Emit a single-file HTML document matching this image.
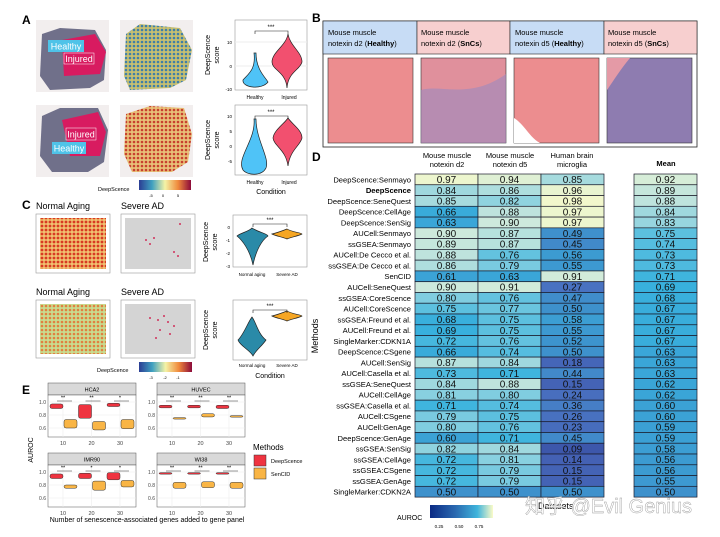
<!DOCTYPE html>
<html><head><meta charset="utf-8">
<style>
body{margin:0;background:#fff;font-family:"Liberation Sans","Noto Sans CJK SC",sans-serif;}
#wrap{position:relative;width:720px;height:537px;overflow:hidden;}
svg text{font-family:"Liberation Sans","Noto Sans CJK SC",sans-serif;}
</style></head>
<body>
<div id="wrap">
<svg id="fig" width="720" height="537" viewBox="0 0 720 537">
<defs>
<linearGradient id="spec" x1="0" x2="1"><stop offset="0" stop-color="#2b3d94"/><stop offset="0.25" stop-color="#3fa0c0"/><stop offset="0.5" stop-color="#f4f3a6"/><stop offset="0.75" stop-color="#f08a3c"/><stop offset="1" stop-color="#8c0a3a"/></linearGradient>
<linearGradient id="auroc" x1="0" x2="1"><stop offset="0" stop-color="#0b2a84"/><stop offset="0.4" stop-color="#2a69b0"/><stop offset="0.75" stop-color="#3fb4dc"/><stop offset="1" stop-color="#fbfbc8"/></linearGradient>
<pattern id="dots1" width="4" height="4" patternUnits="userSpaceOnUse"><rect width="4" height="4" fill="#c8c070"/><circle cx="2" cy="2" r="1.3" fill="#3f7fa8"/></pattern>
<pattern id="dots2" width="4" height="4" patternUnits="userSpaceOnUse"><rect width="4" height="4" fill="#e8c078"/><circle cx="2" cy="2" r="1.3" fill="#c8402e"/></pattern>
<pattern id="dots3" width="4" height="4" patternUnits="userSpaceOnUse"><rect width="4" height="4" fill="#f0c070"/><circle cx="2" cy="2" r="1.4" fill="#d83a22"/></pattern>
<pattern id="dots4" width="4" height="4" patternUnits="userSpaceOnUse"><rect width="4" height="4" fill="#c8dc90"/><circle cx="2" cy="2" r="1.3" fill="#e08040"/></pattern>
</defs>

<!-- Panel A -->
<g>
<text x="22" y="24" font-size="12" font-weight="bold">A</text>
<rect x="36" y="20" width="73" height="72" fill="#f2eeee"/>
<path d="M42 34 L60 28 L95 30 L106 50 L104 80 L90 88 L50 90 L40 76 Z" fill="#70708a"/>
<path d="M62 40 L95 34 L106 52 L100 74 L64 76 Z" fill="#d81b60"/>
<rect x="48" y="40" width="36" height="12" fill="#4fc3e8"/>
<text x="66" y="49.5" font-size="9" fill="#fff" text-anchor="middle">Healthy</text>
<rect x="64" y="53" width="30" height="11" fill="#d81b60" stroke="#fff" stroke-width="0.5"/>
<text x="79" y="62" font-size="9" fill="#fff" text-anchor="middle">Injured</text>
<rect x="120" y="20" width="73" height="72" fill="#f2eeee"/>
<path d="M126 34 L140 24 L180 28 L192 50 L186 80 L170 88 L130 90 L124 76 Z" fill="url(#dots1)"/>
<rect x="36" y="105" width="73" height="72" fill="#f2eeee"/>
<path d="M42 116 L60 108 L98 108 L108 130 L104 162 L88 172 L52 172 L40 156 Z" fill="#70708a"/>
<path d="M62 120 L98 112 L106 132 L100 156 L70 156 Z" fill="#d81b60"/>
<rect x="66" y="128" width="30" height="12" fill="#d81b60" stroke="#fff" stroke-width="0.5"/>
<text x="81" y="137.5" font-size="9" fill="#fff" text-anchor="middle">Injured</text>
<rect x="52" y="142" width="34" height="12" fill="#4fc3e8"/>
<text x="69" y="151.5" font-size="9" fill="#fff" text-anchor="middle">Healthy</text>
<rect x="120" y="105" width="73" height="72" fill="#f2eeee"/>
<path d="M126 114 L150 106 L184 108 L192 134 L188 162 L172 172 L132 172 L124 154 Z" fill="url(#dots2)"/>
<text x="98" y="191" font-size="5.5">DeepScence</text>
<rect x="139" y="180" width="52" height="10" fill="url(#spec)"/>
<text x="151" y="197" font-size="4" text-anchor="middle">-5</text><text x="163" y="197" font-size="4" text-anchor="middle">0</text><text x="178" y="197" font-size="4" text-anchor="middle">5</text>
<!-- violins A -->
<g>
<rect x="235" y="20" width="72" height="70" fill="#fff" stroke="#999" stroke-width="0.6"/>
<line x1="235" y1="42" x2="307" y2="42" stroke="#eee"/><line x1="235" y1="66" x2="307" y2="66" stroke="#eee"/>
<path d="M254 53 C256 70 248 74 243 80 C242 88 262 90 268 82 C266 78 256 70 256 53 Z" fill="#4fc3f7" stroke="#222" stroke-width="0.7"/>
<path d="M288 34 C290 46 302 52 302 62 C300 70 288 72 287 88 C286 72 272 70 272 62 C272 52 286 46 288 34 Z" fill="#f2506f" stroke="#222" stroke-width="0.7"/>
<path d="M255 34 L255 31 L288 31 L288 34" fill="none" stroke="#222" stroke-width="0.6"/>
<text x="271" y="29" font-size="6" text-anchor="middle">***</text>
<text x="232" y="44" font-size="4.5" text-anchor="end">10</text><text x="232" y="68" font-size="4.5" text-anchor="end">0</text><text x="232" y="91" font-size="4.5" text-anchor="end">-10</text>
<text x="255" y="99" font-size="5" text-anchor="middle">Healthy</text><text x="289" y="99" font-size="5" text-anchor="middle">Injured</text>
<text transform="translate(210,55) rotate(-90)" font-size="7" text-anchor="middle">DeepScence</text>
<text transform="translate(219,55) rotate(-90)" font-size="7" text-anchor="middle">score</text>
</g>
<g>
<rect x="235" y="105" width="72" height="70" fill="#fff" stroke="#999" stroke-width="0.6"/>
<path d="M254 119 C256 140 236 158 243 170 C248 176 262 176 266 168 C270 158 256 140 256 119 Z" fill="#4fc3f7" stroke="#222" stroke-width="0.7"/>
<path d="M288 118 C292 124 302 130 302 138 C300 146 290 150 288 166 C286 150 274 146 273 138 C274 130 284 124 288 118 Z" fill="#f2506f" stroke="#222" stroke-width="0.7"/>
<path d="M255 119 L255 116 L288 116 L288 119" fill="none" stroke="#222" stroke-width="0.6"/>
<text x="271" y="114" font-size="6" text-anchor="middle">***</text>
<text x="232" y="118" font-size="4.5" text-anchor="end">10</text><text x="232" y="133" font-size="4.5" text-anchor="end">5</text><text x="232" y="148" font-size="4.5" text-anchor="end">0</text><text x="232" y="163" font-size="4.5" text-anchor="end">-5</text>
<text x="255" y="184" font-size="5" text-anchor="middle">Healthy</text><text x="289" y="184" font-size="5" text-anchor="middle">Injured</text>
<text x="271" y="194" font-size="7" text-anchor="middle">Condition</text>
<text transform="translate(210,140) rotate(-90)" font-size="7" text-anchor="middle">DeepScence</text>
<text transform="translate(219,140) rotate(-90)" font-size="7" text-anchor="middle">score</text>
</g>
</g>

<!-- Panel C -->
<g>
<text x="22" y="209" font-size="12" font-weight="bold">C</text>
<text x="36" y="209" font-size="9">Normal Aging</text><text x="121" y="209" font-size="9">Severe AD</text>
<rect x="36" y="214" width="74" height="59" fill="#fff" stroke="#999" stroke-width="0.6"/>
<rect x="40" y="218" width="66" height="51" fill="url(#dots3)"/>
<rect x="121" y="214" width="74" height="59" fill="#fff" stroke="#999" stroke-width="0.6"/>
<rect x="125" y="218" width="66" height="51" fill="#d4d4d4"/>
<text x="36" y="295" font-size="9">Normal Aging</text><text x="121" y="295" font-size="9">Severe AD</text>
<rect x="36" y="300" width="74" height="58" fill="#fff" stroke="#999" stroke-width="0.6"/>
<rect x="40" y="304" width="66" height="50" fill="url(#dots4)"/>
<rect x="121" y="300" width="74" height="58" fill="#fff" stroke="#999" stroke-width="0.6"/>
<rect x="125" y="304" width="66" height="50" fill="#d4d4d4"/>
<g fill="#d0305a">
<circle cx="146" cy="240" r="1"/><circle cx="150" cy="244" r="1"/><circle cx="154" cy="238" r="1"/><circle cx="174" cy="252" r="1"/><circle cx="178" cy="256" r="1"/><circle cx="180" cy="224" r="1"/>
<circle cx="150" cy="318" r="1"/><circle cx="158" cy="320" r="1"/><circle cx="164" cy="316" r="1"/><circle cx="168" cy="322" r="1"/><circle cx="160" cy="330" r="1"/><circle cx="170" cy="334" r="1"/><circle cx="156" cy="338" r="1"/><circle cx="174" cy="326" r="1"/>
</g>
<text x="97" y="372" font-size="5.5">DeepScence</text>
<rect x="139" y="362" width="53" height="10" fill="url(#spec)"/>
<text x="151" y="379" font-size="4" text-anchor="middle">-3</text><text x="165" y="379" font-size="4" text-anchor="middle">-2</text><text x="178" y="379" font-size="4" text-anchor="middle">-1</text>
<g>
<rect x="233" y="215" width="74" height="52" fill="#fff" stroke="#999" stroke-width="0.6"/>
<path d="M252 228 C258 232 268 234 268 236 C262 240 256 250 253 265 C250 250 242 240 237 236 C240 233 248 232 252 228 Z" fill="#2a8aa8" stroke="#222" stroke-width="0.7"/>
<path d="M287 229 C292 232 302 233 302 234 C298 236 292 237 287 239 C282 237 276 236 272 234 C276 233 282 231 287 229 Z" fill="#f6a623" stroke="#222" stroke-width="0.7"/>
<path d="M253 227 L253 224 L287 224 L287 227" fill="none" stroke="#222" stroke-width="0.6"/>
<text x="270" y="222" font-size="6" text-anchor="middle">***</text>
<text x="230" y="229" font-size="4.5" text-anchor="end">0</text><text x="230" y="242" font-size="4.5" text-anchor="end">-1</text><text x="230" y="255" font-size="4.5" text-anchor="end">-2</text><text x="230" y="268" font-size="4.5" text-anchor="end">-3</text>
<text x="252" y="276" font-size="4.5" text-anchor="middle">Normal aging</text><text x="287" y="276" font-size="4.5" text-anchor="middle">Severe AD</text>
<text transform="translate(208,242) rotate(-90)" font-size="7" text-anchor="middle">DeepScence</text>
<text transform="translate(217,242) rotate(-90)" font-size="7" text-anchor="middle">score</text>
</g>
<g>
<rect x="233" y="300" width="74" height="60" fill="#fff" stroke="#999" stroke-width="0.6"/>
<path d="M252 317 C256 322 258 334 266 340 C262 346 256 350 253 356 C250 350 240 346 238 340 C244 334 248 322 252 317 Z" fill="#2a8aa8" stroke="#222" stroke-width="0.7"/>
<path d="M287 311 C292 314 302 315 302 316 C298 318 292 319 287 321 C282 319 276 318 272 316 C276 315 282 313 287 311 Z" fill="#f6a623" stroke="#222" stroke-width="0.7"/>
<path d="M253 313 L253 310 L287 310 L287 313" fill="none" stroke="#222" stroke-width="0.6"/>
<text x="270" y="308" font-size="6" text-anchor="middle">***</text>
<text x="252" y="367" font-size="4.5" text-anchor="middle">Normal aging</text><text x="287" y="367" font-size="4.5" text-anchor="middle">Severe AD</text>
<text x="270" y="378" font-size="7" text-anchor="middle">Condition</text>
<text transform="translate(208,330) rotate(-90)" font-size="7" text-anchor="middle">DeepScence</text>
<text transform="translate(217,330) rotate(-90)" font-size="7" text-anchor="middle">score</text>
</g>
</g>

<!-- Panel B -->
<g>
<text x="312" y="22" font-size="12" font-weight="bold">B</text>
<rect x="323" y="21" width="374" height="126" fill="#fff" stroke="#222" stroke-width="0.8"/>
<rect x="323" y="21" width="94" height="33" fill="#c7dcf5" stroke="#222" stroke-width="0.6"/>
<rect x="417" y="21" width="93" height="33" fill="#f7cfcf" stroke="#222" stroke-width="0.6"/>
<rect x="510" y="21" width="94" height="33" fill="#c7dcf5" stroke="#222" stroke-width="0.6"/>
<rect x="604" y="21" width="93" height="33" fill="#f7cfcf" stroke="#222" stroke-width="0.6"/>
<g font-size="7.5">
<text x="328" y="35">Mouse muscle</text><text x="328" y="46">notexin d2 (<tspan font-weight="bold">Healthy</tspan>)</text>
<text x="421" y="35">Mouse muscle</text><text x="421" y="46">notexin d2 (<tspan font-weight="bold">SnCs</tspan>)</text>
<text x="515" y="35">Mouse muscle</text><text x="515" y="46">notexin d5 (<tspan font-weight="bold">Healthy</tspan>)</text>
<text x="608" y="35">Mouse muscle</text><text x="608" y="46">notexin d5 (<tspan font-weight="bold">SnCs</tspan>)</text>
</g>
<rect x="328" y="58" width="85" height="85" fill="#ec8d8f" stroke="#333" stroke-width="0.6"/>
<rect x="421" y="58" width="85" height="85" fill="#e0909c" stroke="#333" stroke-width="0.6"/>
<path d="M421 90 C440 84 470 100 506 74 L506 143 L421 143 Z" fill="#9b8ac0" opacity="0.6"/>
<rect x="514" y="58" width="85" height="85" fill="#ec8d8f" stroke="#333" stroke-width="0.6"/>
<path d="M514 118 C524 124 530 138 540 143 L514 143 Z" fill="#fff"/>
<rect x="607" y="58" width="85" height="85" fill="#8e7cb0" stroke="#333" stroke-width="0.6"/>
<path d="M607 58 L630 58 C620 70 614 80 607 90 Z" fill="#e49aa6"/>
</g>

<!-- Panel D heatmap -->
<g id="heat">
<text x="312" y="161" font-size="12" font-weight="bold">D</text>
<g font-size="7.5" text-anchor="middle">
<text x="447" y="158">Mouse muscle</text><text x="447" y="167">notexin d2</text>
<text x="510" y="158">Mouse muscle</text><text x="510" y="167">notexin d5</text>
<text x="572" y="158">Human brain</text><text x="572" y="167">microglia</text>
<text x="666" y="166" font-weight="bold">Mean</text>
</g>
<text transform="translate(318,336) rotate(-90)" font-size="9" text-anchor="middle">Methods</text>
<text x="397" y="520" font-size="7">AUROC</text>
<rect x="430" y="505" width="63" height="13" fill="url(#auroc)"/>
<text x="439" y="528" font-size="4.5" text-anchor="middle">0.25</text><text x="459" y="528" font-size="4.5" text-anchor="middle">0.50</text><text x="479" y="528" font-size="4.5" text-anchor="middle">0.75</text>
<text x="538" y="509" font-size="9">Datasets</text>
</g>

<!-- Panel E -->
<g id="panelE">
<text x="22" y="394" font-size="12" font-weight="bold">E</text>
<text transform="translate(33,450) rotate(-90)" font-size="7" text-anchor="middle">AUROC</text>
<text x="147" y="522" font-size="7" text-anchor="middle">Number of senescence-associated genes added to gene panel</text>
<text x="253" y="450" font-size="8">Methods</text>
<rect x="254" y="455" width="12" height="11" fill="#ef3340" stroke="#333" stroke-width="0.5"/>
<text x="271" y="463" font-size="5.5">DeepScence</text>
<rect x="254" y="468" width="12" height="11" fill="#f9b545" stroke="#333" stroke-width="0.5"/>
<text x="271" y="476" font-size="5.5">SenCID</text>
</g>

<text x="525" y="513" font-size="20" fill="#ffffff" fill-opacity="0.85" stroke="#999" stroke-width="0.4">知乎 @Evil Genius</text>
</svg>
</div>
<script>
const methods = ["DeepScence:Senmayo","DeepScence","DeepScence:SeneQuest","DeepScence:CellAge","DeepScence:SenSig","AUCell:Senmayo","ssGSEA:Senmayo","AUCell:De Cecco et al.","ssGSEA:De Cecco et al.","SenCID","AUCell:SeneQuest","ssGSEA:CoreScence","AUCell:CoreScence","ssGSEA:Freund et al.","AUCell:Freund et al.","SingleMarker:CDKN1A","DeepScence:CSgene","AUCell:SenSig","AUCell:Casella et al.","ssGSEA:SeneQuest","AUCell:CellAge","ssGSEA:Casella et al.","AUCell:CSgene","AUCell:GenAge","DeepScence:GenAge","ssGSEA:SenSig","ssGSEA:CellAge","ssGSEA:CSgene","ssGSEA:GenAge","SingleMarker:CDKN2A"];
const d2 = [0.97,0.84,0.85,0.66,0.63,0.90,0.89,0.88,0.86,0.61,0.90,0.80,0.75,0.68,0.69,0.72,0.66,0.87,0.73,0.84,0.81,0.71,0.79,0.80,0.60,0.82,0.72,0.72,0.72,0.50];
const d5 = [0.94,0.86,0.82,0.88,0.90,0.87,0.87,0.76,0.79,0.63,0.91,0.76,0.77,0.75,0.75,0.76,0.74,0.84,0.71,0.88,0.80,0.74,0.75,0.76,0.71,0.84,0.81,0.79,0.79,0.50];
const micro = [0.85,0.96,0.98,0.97,0.97,0.49,0.45,0.56,0.55,0.91,0.27,0.47,0.50,0.58,0.55,0.52,0.50,0.18,0.44,0.15,0.24,0.36,0.26,0.23,0.45,0.09,0.14,0.15,0.15,0.50];
const meanVals = [0.92,0.89,0.88,0.84,0.83,0.75,0.74,0.73,0.73,0.71,0.69,0.68,0.67,0.67,0.67,0.67,0.63,0.63,0.63,0.62,0.62,0.60,0.60,0.59,0.59,0.58,0.56,0.56,0.55,0.50];

// Panel E data: [low, high] AUROC ranges per gene count
const eFacets = ["HCA2","HUVEC","IMR90","WI38"];
const eGenes = [10,20,30];
const eDeepLo = [[0.90,0.75,0.93],[0.91,0.91,0.90],[0.90,0.90,0.88],[0.97,0.97,0.97]];
const eDeepHi = [[0.97,0.96,0.98],[0.95,0.95,0.95],[0.97,0.98,0.99],[0.99,0.99,0.99]];
const eSenLo = [[0.60,0.57,0.59],[0.74,0.77,0.77],[0.75,0.72,0.77],[0.75,0.76,0.75]];
const eSenHi = [[0.73,0.70,0.73],[0.76,0.82,0.79],[0.80,0.86,0.87],[0.84,0.85,0.84]];
const eSig = [["**","**","*"],["**","**","**"],["**","*","*"],["**","**","**"]];
const eTicks = [0.6,0.8,1.0];

const NS='http://www.w3.org/2000/svg';
function mk(tag, attrs, parent){const e=document.createElementNS(NS,tag);for(const k in attrs)e.setAttribute(k,attrs[k]);parent.appendChild(e);return e;}

// colour scale
const stops=[[0.0,[20,45,130]],[0.1,[66,92,176]],[0.3,[74,118,196]],[0.5,[62,145,204]],[0.7,[56,178,222]],[0.8,[128,205,224]],[0.9,[205,233,220]],[1.0,[251,251,200]]];
function color(v){for(let i=1;i<stops.length;i++){if(v<=stops[i][0]){const a=stops[i-1],b=stops[i];const t=(v-a[0])/(b[0]-a[0]);const c=a[1].map((x,j)=>Math.round(x+(b[1][j]-x)*t));return `rgb(${c})`;}}return 'rgb(251,251,200)';}

const heat=document.getElementById('heat');
const rowTop=174, rowH=10.77;
const colX=[415,478,541], colW=63, meanX=634, meanW=63;
function yRow(i){return rowTop+i*rowH;}
const cols=[d2,d5,micro];
methods.forEach((m,i)=>{
  const y=yRow(i);
  const t=mk('text',{x:411,y:y+8.3,'font-size':7.6,'text-anchor':'end','font-weight':m==='DeepScence'?'bold':'normal'},heat);
  t.textContent=m;
  
  
  cols.forEach((arr,c)=>{
    const r=mk('rect',{x:colX[c],y:y,width:colW,height:rowH,fill:color(arr[i]),stroke:'#1a1a2a','stroke-width':0.7},heat);
    
    
    const tx=mk('text',{x:colX[c]+colW/2,y:y+9,'font-size':10,'text-anchor':'middle',fill:'#111'},heat);
    tx.textContent=arr[i].toFixed(2);
  });
  const r=mk('rect',{x:meanX,y:y,width:meanW,height:rowH,fill:color(meanVals[i]),stroke:'#1a1a2a','stroke-width':0.7},heat);
  
  
  const tx=mk('text',{x:meanX+meanW/2,y:y+9,'font-size':10,'text-anchor':'middle',fill:'#111'},heat);
  tx.textContent=meanVals[i].toFixed(2);
});

// Panel E
const pe=document.getElementById('panelE');
const facetPos=[[48,383],[157,383],[48,453],[157,453]];
const fW=88, stripH=12, plotH=42;
eFacets.forEach((f,fi)=>{
  const [fx,fy]=facetPos[fi];
  const py=fy+stripH;
  function ys(v){return py+7+(1.0-v)/0.4*26;}
  function xs(k){return fx+15+k*28.5;}
  const strip=mk('rect',{x:fx,y:fy,width:fW,height:stripH,fill:'#d9d9d9',stroke:'#555','stroke-width':0.5},pe);
  
  
  const st=mk('text',{x:fx+fW/2,y:fy+8.5,'font-size':5.5,'text-anchor':'middle'},pe);st.textContent=f;
  mk('rect',{x:fx,y:py,width:fW,height:plotH,fill:'#fff',stroke:'#555','stroke-width':0.5},pe);
  eTicks.forEach(t=>{
    mk('line',{x1:fx,x2:fx+fW,y1:ys(t),y2:ys(t),stroke:'#ececec','stroke-width':0.6},pe);
    if(fi%2===0||true){const tl=mk('text',{x:fx-2,y:ys(t)+1.8,'font-size':5,'text-anchor':'end',fill:'#444'},pe);tl.textContent=t.toFixed(1);}
  });
  eGenes.forEach((g,k)=>{
    const cx=xs(k);
    mk('line',{x1:cx,x2:cx,y1:py,y2:py+plotH,stroke:'#ececec','stroke-width':0.6},pe);
    const gl=mk('text',{x:cx,y:py+plotH+8,'font-size':5.5,'text-anchor':'middle',fill:'#444'},pe);gl.textContent=g;
    const dr=mk('rect',{x:cx-7-6,y:ys(eDeepHi[fi][k]),width:13,height:Math.max(1.5,ys(eDeepLo[fi][k])-ys(eDeepHi[fi][k])),rx:2,fill:'#ef3340',stroke:'#333','stroke-width':0.5},pe);
    
    
    const sr=mk('rect',{x:cx+7-6,y:ys(eSenHi[fi][k]),width:13,height:Math.max(1.5,ys(eSenLo[fi][k])-ys(eSenHi[fi][k])),rx:2,fill:'#f9b545',stroke:'#333','stroke-width':0.5},pe);
    
    
    mk('line',{x1:cx-6,x2:cx+9,y1:ys(1.0)-1,y2:ys(1.0)-1,stroke:'#333','stroke-width':0.5},pe);
    const s=mk('text',{x:cx,y:ys(1.0)-2.5,'font-size':5.5,'text-anchor':'middle'},pe);s.textContent=eSig[fi][k];
  });
});
</script>
</body></html>
